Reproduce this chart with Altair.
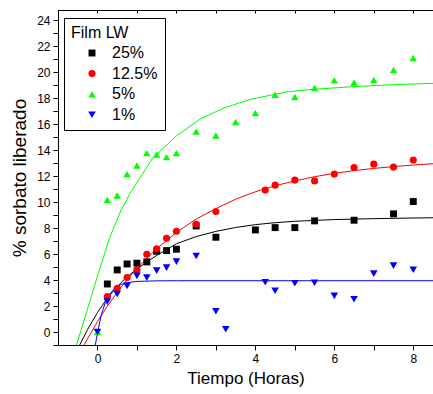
import altair as alt
import pandas as pd

FONT = "Liberation Sans"

series = ["25%", "12.5%", "5%", "1%"]
colors = ["#000000", "#ff0000", "#00ff00", "#0000ff"]
shapes = ["square", "circle", "triangle-up", "triangle-down"]
sizes = [48, 58, 80, 80]

# measured points
t_25 = [0.25, 0.5, 0.75, 1.0, 1.25, 1.5, 1.75, 2.0, 2.5, 3.0, 4.0, 4.5, 5.0, 5.5, 6.5, 7.5, 8.0]
y_25 = [3.70, 4.78, 5.24, 5.30, 5.40, 6.22, 6.27, 6.38, 8.17, 7.30, 7.86, 8.04, 8.04, 8.56, 8.61, 9.10, 10.05]

t_125 = [0.25, 0.5, 0.75, 1.0, 1.25, 1.5, 1.75, 2.0, 2.5, 3.0, 4.25, 4.5, 5.0, 5.5, 6.0, 6.5, 7.0, 7.5, 8.0]
y_125 = [2.72, 3.37, 4.19, 4.78, 5.99, 6.40, 7.22, 7.76, 8.30, 9.28, 10.93, 11.31, 11.70, 11.64, 12.16, 12.67, 12.93, 12.70, 13.24]

t_5 = [0, 0.25, 0.5, 0.75, 1.0, 1.25, 1.5, 1.75, 2.0, 2.5, 3.0, 3.5, 4.0, 4.5, 5.0, 5.5, 6.0, 6.5, 7.0, 7.5, 8.0]
y_5 = [0.0, 10.18, 10.51, 12.16, 12.82, 13.78, 13.67, 13.47, 13.78, 15.44, 15.14, 16.17, 16.86, 18.27, 18.10, 18.79, 19.38, 19.22, 19.41, 20.18, 21.10]

t_1 = [0, 0.25, 0.5, 0.75, 1.0, 1.25, 1.5, 1.75, 2.0, 2.5, 3.0, 3.25, 4.25, 4.5, 5.0, 5.5, 6.0, 6.5, 7.0, 7.5, 8.0]
y_1 = [0.0, 2.34, 2.93, 3.55, 4.32, 4.19, 4.73, 4.96, 5.42, 5.86, 1.60, 0.21, 3.83, 3.18, 3.75, 3.80, 2.78, 2.52, 4.50, 5.11, 4.80]

# fitted curves
ct_25 = [-0.45, -0.25, 0, 0.25, 0.5, 0.75, 1.0, 1.25, 1.5, 2.0, 2.5, 3.0, 3.5, 4.0, 4.5, 5.0, 6.0, 7.0, 8.0, 8.5]
cy_25 = [-1.0, 0.2, 1.5, 2.6, 3.5, 4.25, 4.85, 5.4, 5.9, 6.8, 7.35, 7.75, 8.05, 8.27, 8.42, 8.53, 8.66, 8.73, 8.78, 8.8]

ct_125 = [-0.38, 0, 0.25, 0.5, 0.75, 1.0, 1.5, 2.0, 2.5, 3.0, 3.5, 4.0, 4.5, 5.0, 5.5, 6.0, 6.5, 7.0, 7.5, 8.0, 8.5]
cy_125 = [-1.2, 0.8, 1.99, 3.05, 4.03, 4.9, 6.42, 7.66, 8.7, 9.5, 10.23, 10.8, 11.26, 11.64, 11.96, 12.22, 12.43, 12.6, 12.74, 12.86, 12.96]

ct_5 = [-0.54, 0, 0.3, 0.6, 0.85, 1.4, 2.0, 2.6, 3.2, 3.85, 4.8, 5.5, 6.5, 7.5, 8.5]
cy_5 = [-1.1, 4.3, 7.2, 9.4, 10.8, 13.4, 15.1, 16.4, 17.25, 17.9, 18.5, 18.7, 18.9, 19.05, 19.15]

ct_1 = [-0.06, 0, 0.1, 0.2, 0.3, 0.4, 0.5, 0.6, 0.75, 1.0, 1.5, 2.0, 8.5]
cy_1 = [-1.1, -0.05, 1.36, 2.28, 2.87, 3.25, 3.5, 3.66, 3.8, 3.9, 3.94, 3.95, 3.95]

x_ticks = list(range(0, 9))
y_ticks = list(range(-1, 25))

points = pd.concat([
    pd.DataFrame({"t": t, "v": v, "Film": s})
    for t, v, s in [(t_25, y_25, series[0]), (t_125, y_125, series[1]),
                    (t_5, y_5, series[2]), (t_1, y_1, series[3])]
], ignore_index=True)

xscale = alt.Scale(domain=[-1, 8.5], nice=False, zero=False)
yscale = alt.Scale(domain=[-1, 24.8], nice=False, zero=False)

x_axis = alt.Axis(values=x_ticks, labelExpr="datum.value % 2 == 0 ? datum.label : ''",
                  title="Tiempo (Horas)", tickSize=5, labelPadding=3, titlePadding=6,
                  labelFontSize=12, titleFontSize=17, grid=False, labelFlush=False)
y_axis = alt.Axis(values=y_ticks, labelExpr="datum.value >= 0 && datum.value % 2 == 0 ? datum.label : ''",
                  title="% sorbato liberado", tickSize=5, labelPadding=3, titlePadding=7,
                  labelFontSize=12, titleFontSize=19, grid=False)

layers = []
for ct, cy, col in [(ct_25, cy_25, colors[0]), (ct_125, cy_125, colors[1]),
                    (ct_5, cy_5, colors[2]), (ct_1, cy_1, colors[3])]:
    df = pd.DataFrame({"t": ct, "v": cy})
    layers.append(
        alt.Chart(df).mark_line(color=col, strokeWidth=1, clip=True).encode(
            x=alt.X("t:Q", scale=xscale, axis=None),
            y=alt.Y("v:Q", scale=yscale, axis=y_axis),
        )
    )

pts = alt.Chart(points).mark_point(filled=True, opacity=1, strokeWidth=0).encode(
    x=alt.X("t:Q", scale=xscale, axis=x_axis),
    y=alt.Y("v:Q", scale=yscale, axis=y_axis),
    color=alt.Color("Film:N", scale=alt.Scale(domain=series, range=colors),
                    legend=alt.Legend(title="Film LW", orient="none", legendX=6, legendY=8,
                                      titleFontSize=16, titleFontWeight="normal",
                                      labelFontSize=16, fillColor="white", strokeColor="black",
                                      padding=7, symbolOffset=13, labelOffset=12,
                                      rowPadding=4.6, titlePadding=4, symbolSize=75,
                                      symbolStrokeWidth=0)),
    shape=alt.Shape("Film:N", scale=alt.Scale(domain=series, range=shapes)),
    size=alt.Size("Film:N", scale=alt.Scale(domain=series, range=sizes), legend=None),
    order=alt.Order("idx:Q"),
).transform_window(idx="row_number()")

top_axis = alt.Chart(points).mark_point(opacity=0).encode(
    x=alt.X("t:Q", scale=xscale,
            axis=alt.Axis(orient="top", values=x_ticks, labels=False, title=None,
                          domain=False, tickSize=3, offset=-3, grid=False)),
)

frame_top = alt.Chart(points).mark_rule(color="black", strokeWidth=1).encode(
    x=alt.value(0), x2=alt.value("width"), y=alt.value(0.5)
)

chart = alt.layer(*layers, pts, top_axis, frame_top).resolve_axis(x="independent").properties(
    width=375, height=335,
    padding={"left": 58, "top": 10, "right": 0, "bottom": 49},
    autosize=alt.AutoSizeParams(type="none"),
).configure_view(stroke=None).configure_axis(
    labelFont=FONT, titleFont=FONT, labelColor="black", titleColor="black",
    domainColor="black", tickColor="black", titleFontWeight="normal"
).configure_legend(labelFont=FONT, titleFont=FONT, labelColor="black", titleColor="black")

chart.save("out.html", embed_options={"renderer": "svg", "actions": False})
